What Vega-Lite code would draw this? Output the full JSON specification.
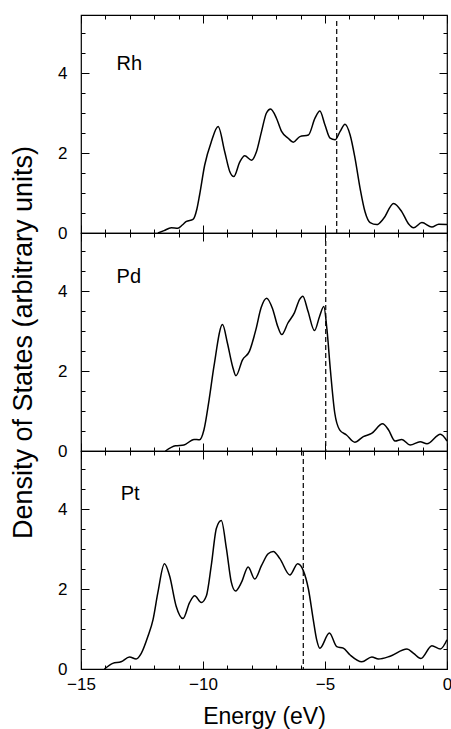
{
  "$schema": "https://vega.github.io/schema/vega-lite/v6.json",
  "background": "white",
  "padding": {"left": 8, "top": 13, "right": 4, "bottom": 5},
  "spacing": 0,
  "bounds": "flush",
  "config": {
    "view": {"stroke": "black", "strokeWidth": 1.2},
    "axis": {"labelFont": "Liberation Sans", "labelFontSize": 17, "labelColor": "black", "labelFlush": false, "titleFont": "Liberation Sans", "titleFontWeight": "normal", "titleColor": "black", "tickColor": "black", "tickWidth": 1, "grid": false, "domain": false},
    "text": {"font": "Liberation Sans"}
  },
  "datasets": {
    "dos": [
      {"metal": "Rh", "E": -11.85, "D": 0}, {"metal": "Rh", "E": -11.6, "D": 0.06}, {"metal": "Rh", "E": -11.3, "D": 0.13}, {"metal": "Rh", "E": -11.03, "D": 0.12}, {"metal": "Rh", "E": -10.85, "D": 0.2}, {"metal": "Rh", "E": -10.68, "D": 0.29}, {"metal": "Rh", "E": -10.41, "D": 0.34}, {"metal": "Rh", "E": -10.25, "D": 0.6}, {"metal": "Rh", "E": -10.14, "D": 0.95}, {"metal": "Rh", "E": -9.93, "D": 1.7}, {"metal": "Rh", "E": -9.66, "D": 2.28}, {"metal": "Rh", "E": -9.38, "D": 2.66}, {"metal": "Rh", "E": -9.11, "D": 2.03}, {"metal": "Rh", "E": -8.9, "D": 1.53}, {"metal": "Rh", "E": -8.74, "D": 1.41}, {"metal": "Rh", "E": -8.49, "D": 1.78}, {"metal": "Rh", "E": -8.29, "D": 1.93}, {"metal": "Rh", "E": -8.01, "D": 1.82}, {"metal": "Rh", "E": -7.81, "D": 2.03}, {"metal": "Rh", "E": -7.6, "D": 2.54}, {"metal": "Rh", "E": -7.4, "D": 3.0}, {"metal": "Rh", "E": -7.23, "D": 3.1}, {"metal": "Rh", "E": -6.99, "D": 2.87}, {"metal": "Rh", "E": -6.78, "D": 2.54}, {"metal": "Rh", "E": -6.51, "D": 2.37}, {"metal": "Rh", "E": -6.3, "D": 2.27}, {"metal": "Rh", "E": -6.03, "D": 2.41}, {"metal": "Rh", "E": -5.68, "D": 2.45}, {"metal": "Rh", "E": -5.41, "D": 2.87}, {"metal": "Rh", "E": -5.21, "D": 3.05}, {"metal": "Rh", "E": -5.0, "D": 2.7}, {"metal": "Rh", "E": -4.79, "D": 2.37}, {"metal": "Rh", "E": -4.59, "D": 2.33}, {"metal": "Rh", "E": -4.38, "D": 2.54}, {"metal": "Rh", "E": -4.18, "D": 2.72}, {"metal": "Rh", "E": -3.97, "D": 2.45}, {"metal": "Rh", "E": -3.77, "D": 1.87}, {"metal": "Rh", "E": -3.56, "D": 1.11}, {"metal": "Rh", "E": -3.36, "D": 0.53}, {"metal": "Rh", "E": -3.15, "D": 0.26}, {"metal": "Rh", "E": -2.88, "D": 0.21}, {"metal": "Rh", "E": -2.6, "D": 0.36}, {"metal": "Rh", "E": -2.19, "D": 0.74}, {"metal": "Rh", "E": -1.85, "D": 0.53}, {"metal": "Rh", "E": -1.58, "D": 0.23}, {"metal": "Rh", "E": -1.37, "D": 0.13}, {"metal": "Rh", "E": -1.03, "D": 0.26}, {"metal": "Rh", "E": -0.62, "D": 0.15}, {"metal": "Rh", "E": -0.34, "D": 0.22}, {"metal": "Rh", "E": 0, "D": 0.21},
      {"metal": "Pd", "E": -11.54, "D": 0}, {"metal": "Pd", "E": -11.13, "D": 0.13}, {"metal": "Pd", "E": -10.78, "D": 0.15}, {"metal": "Pd", "E": -10.37, "D": 0.29}, {"metal": "Pd", "E": -10.14, "D": 0.28}, {"metal": "Pd", "E": -9.96, "D": 0.53}, {"metal": "Pd", "E": -9.75, "D": 1.28}, {"metal": "Pd", "E": -9.55, "D": 2.12}, {"metal": "Pd", "E": -9.2, "D": 3.16}, {"metal": "Pd", "E": -9.0, "D": 2.7}, {"metal": "Pd", "E": -8.79, "D": 2.12}, {"metal": "Pd", "E": -8.65, "D": 1.88}, {"metal": "Pd", "E": -8.38, "D": 2.28}, {"metal": "Pd", "E": -8.1, "D": 2.49}, {"metal": "Pd", "E": -7.83, "D": 3.04}, {"metal": "Pd", "E": -7.62, "D": 3.58}, {"metal": "Pd", "E": -7.39, "D": 3.82}, {"metal": "Pd", "E": -7.14, "D": 3.54}, {"metal": "Pd", "E": -6.94, "D": 3.12}, {"metal": "Pd", "E": -6.77, "D": 2.91}, {"metal": "Pd", "E": -6.52, "D": 3.2}, {"metal": "Pd", "E": -6.25, "D": 3.46}, {"metal": "Pd", "E": -6.04, "D": 3.79}, {"metal": "Pd", "E": -5.91, "D": 3.87}, {"metal": "Pd", "E": -5.7, "D": 3.5}, {"metal": "Pd", "E": -5.43, "D": 3.01}, {"metal": "Pd", "E": -5.22, "D": 3.37}, {"metal": "Pd", "E": -5.05, "D": 3.61}, {"metal": "Pd", "E": -4.92, "D": 3.04}, {"metal": "Pd", "E": -4.78, "D": 2.03}, {"metal": "Pd", "E": -4.6, "D": 0.95}, {"metal": "Pd", "E": -4.4, "D": 0.53}, {"metal": "Pd", "E": -4.12, "D": 0.4}, {"metal": "Pd", "E": -3.78, "D": 0.22}, {"metal": "Pd", "E": -3.43, "D": 0.36}, {"metal": "Pd", "E": -3.09, "D": 0.44}, {"metal": "Pd", "E": -2.64, "D": 0.68}, {"metal": "Pd", "E": -2.4, "D": 0.53}, {"metal": "Pd", "E": -2.13, "D": 0.25}, {"metal": "Pd", "E": -1.85, "D": 0.29}, {"metal": "Pd", "E": -1.51, "D": 0.15}, {"metal": "Pd", "E": -1.1, "D": 0.23}, {"metal": "Pd", "E": -0.82, "D": 0.18}, {"metal": "Pd", "E": -0.27, "D": 0.42}, {"metal": "Pd", "E": 0, "D": 0.25},
      {"metal": "Pt", "E": -14.04, "D": 0}, {"metal": "Pt", "E": -13.7, "D": 0.14}, {"metal": "Pt", "E": -13.36, "D": 0.18}, {"metal": "Pt", "E": -13.01, "D": 0.3}, {"metal": "Pt", "E": -12.74, "D": 0.25}, {"metal": "Pt", "E": -12.53, "D": 0.39}, {"metal": "Pt", "E": -12.26, "D": 0.81}, {"metal": "Pt", "E": -12.05, "D": 1.23}, {"metal": "Pt", "E": -11.85, "D": 1.91}, {"metal": "Pt", "E": -11.58, "D": 2.63}, {"metal": "Pt", "E": -11.37, "D": 2.33}, {"metal": "Pt", "E": -11.1, "D": 1.57}, {"metal": "Pt", "E": -10.82, "D": 1.26}, {"metal": "Pt", "E": -10.55, "D": 1.66}, {"metal": "Pt", "E": -10.34, "D": 1.83}, {"metal": "Pt", "E": -10.07, "D": 1.66}, {"metal": "Pt", "E": -9.86, "D": 1.83}, {"metal": "Pt", "E": -9.66, "D": 2.59}, {"metal": "Pt", "E": -9.45, "D": 3.52}, {"metal": "Pt", "E": -9.25, "D": 3.71}, {"metal": "Pt", "E": -9.04, "D": 3.01}, {"metal": "Pt", "E": -8.84, "D": 2.17}, {"metal": "Pt", "E": -8.67, "D": 1.95}, {"metal": "Pt", "E": -8.42, "D": 2.17}, {"metal": "Pt", "E": -8.15, "D": 2.55}, {"metal": "Pt", "E": -7.88, "D": 2.25}, {"metal": "Pt", "E": -7.6, "D": 2.59}, {"metal": "Pt", "E": -7.33, "D": 2.88}, {"metal": "Pt", "E": -7.12, "D": 2.94}, {"metal": "Pt", "E": -6.85, "D": 2.76}, {"metal": "Pt", "E": -6.44, "D": 2.35}, {"metal": "Pt", "E": -6.12, "D": 2.63}, {"metal": "Pt", "E": -5.89, "D": 2.46}, {"metal": "Pt", "E": -5.68, "D": 2.0}, {"metal": "Pt", "E": -5.48, "D": 1.23}, {"metal": "Pt", "E": -5.34, "D": 0.73}, {"metal": "Pt", "E": -5.21, "D": 0.52}, {"metal": "Pt", "E": -4.82, "D": 0.9}, {"metal": "Pt", "E": -4.52, "D": 0.56}, {"metal": "Pt", "E": -4.25, "D": 0.52}, {"metal": "Pt", "E": -3.97, "D": 0.35}, {"metal": "Pt", "E": -3.49, "D": 0.18}, {"metal": "Pt", "E": -3.08, "D": 0.3}, {"metal": "Pt", "E": -2.81, "D": 0.25}, {"metal": "Pt", "E": -2.33, "D": 0.32}, {"metal": "Pt", "E": -1.64, "D": 0.5}, {"metal": "Pt", "E": -1.37, "D": 0.39}, {"metal": "Pt", "E": -1.07, "D": 0.26}, {"metal": "Pt", "E": -0.62, "D": 0.58}, {"metal": "Pt", "E": -0.27, "D": 0.5}, {"metal": "Pt", "E": 0, "D": 0.73}
    ],
    "fermi": [
      {"metal": "Rh", "ef": -4.52},
      {"metal": "Pd", "ef": -4.97},
      {"metal": "Pt", "ef": -5.89}
    ]
  },
  "vconcat": [
    {
      "width": 366, "height": 218,
      "resolve": {"axis": {"x": "independent", "y": "independent"}},
      "layer": [
        {
          "data": {"name": "dos"},
          "transform": [{"filter": "datum.metal === 'Rh'"}],
          "mark": {"type": "line", "color": "black", "strokeWidth": 1.5, "interpolate": "monotone"},
          "encoding": {
            "x": {"field": "E", "type": "quantitative", "scale": {"domain": [-15, 0], "nice": false, "zero": false},
              "axis": {"orient": "bottom", "values": [-15,-14,-13,-12,-11,-10,-9,-8,-7,-6,-5,-4,-3,-2,-1,0], "tickSize": {"condition": {"test": "datum.value % 5 === 0", "value": -8}, "value": -4}, "labels": false, "title": null}},
            "y": {"field": "D", "type": "quantitative", "scale": {"domain": [0, 5.45], "nice": false},
              "axis": {"orient": "left", "values": [0,0.5,1,1.5,2,2.5,3,3.5,4,4.5,5], "format": "~g", "tickSize": {"condition": {"test": "datum.value % 2 === 0", "value": -8}, "value": -4}, "labelExpr": "datum.value % 2 === 0 ? datum.label : ''", "labelPadding": 22, "title": null}}
          }
        },
        {
          "data": {"name": "fermi"},
          "transform": [{"filter": "datum.metal === 'Rh'"}],
          "mark": {"type": "rule", "color": "black", "strokeWidth": 1.2, "strokeDash": [5, 3]},
          "encoding": {
            "x": {"field": "ef", "type": "quantitative",
              "axis": {"orient": "top", "values": [-15,-14,-13,-12,-11,-10,-9,-8,-7,-6,-5,-4,-3,-2,-1,0], "tickSize": {"condition": {"test": "datum.value % 5 === 0", "value": -8}, "value": -4}, "labels": false, "title": null}},
            "y": {"datum": 5.3, "type": "quantitative",
              "axis": {"orient": "right", "values": [0,0.5,1,1.5,2,2.5,3,3.5,4,4.5,5], "tickSize": {"condition": {"test": "datum.value % 2 === 0", "value": -8}, "value": -4}, "labels": false, "title": null}},
            "y2": {"datum": 0}
          }
        },
        {
          "data": {"name": "fermi"},
          "transform": [{"filter": "datum.metal === 'Rh'"}],
          "mark": {"type": "text", "align": "left", "baseline": "alphabetic", "fontSize": 20, "color": "black"},
          "encoding": {
            "x": {"datum": -13.54, "type": "quantitative", "axis": null},
            "y": {"datum": 4.07, "type": "quantitative", "axis": null},
            "text": {"field": "metal"}
          }
        }
      ]
    },
    {
      "width": 366, "height": 218,
      "resolve": {"axis": {"x": "independent", "y": "independent"}},
      "layer": [
        {
          "data": {"name": "dos"},
          "transform": [{"filter": "datum.metal === 'Pd'"}],
          "mark": {"type": "line", "color": "black", "strokeWidth": 1.5, "interpolate": "monotone"},
          "encoding": {
            "x": {"field": "E", "type": "quantitative", "scale": {"domain": [-15, 0], "nice": false, "zero": false},
              "axis": {"orient": "bottom", "values": [-15,-14,-13,-12,-11,-10,-9,-8,-7,-6,-5,-4,-3,-2,-1,0], "tickSize": {"condition": {"test": "datum.value % 5 === 0", "value": -8}, "value": -4}, "labels": false, "title": null}},
            "y": {"field": "D", "type": "quantitative", "scale": {"domain": [0, 5.45], "nice": false},
              "axis": {"orient": "left", "values": [0,0.5,1,1.5,2,2.5,3,3.5,4,4.5,5], "format": "~g", "tickSize": {"condition": {"test": "datum.value % 2 === 0", "value": -8}, "value": -4}, "labelExpr": "datum.value % 2 === 0 ? datum.label : ''", "labelPadding": 22, "title": "Density of States (arbitrary units)", "titleFontSize": 27, "titlePadding": 20}}
          }
        },
        {
          "data": {"name": "fermi"},
          "transform": [{"filter": "datum.metal === 'Pd'"}],
          "mark": {"type": "rule", "color": "black", "strokeWidth": 1.2, "strokeDash": [5, 3]},
          "encoding": {
            "x": {"field": "ef", "type": "quantitative",
              "axis": {"orient": "top", "values": [-15,-14,-13,-12,-11,-10,-9,-8,-7,-6,-5,-4,-3,-2,-1,0], "tickSize": {"condition": {"test": "datum.value % 5 === 0", "value": -8}, "value": -4}, "labels": false, "title": null}},
            "y": {"datum": 5.45, "type": "quantitative",
              "axis": {"orient": "right", "values": [0,0.5,1,1.5,2,2.5,3,3.5,4,4.5,5], "tickSize": {"condition": {"test": "datum.value % 2 === 0", "value": -8}, "value": -4}, "labels": false, "title": null}},
            "y2": {"datum": 0}
          }
        },
        {
          "data": {"name": "fermi"},
          "transform": [{"filter": "datum.metal === 'Pd'"}],
          "mark": {"type": "text", "align": "left", "baseline": "alphabetic", "fontSize": 20, "color": "black"},
          "encoding": {
            "x": {"datum": -13.54, "type": "quantitative", "axis": null},
            "y": {"datum": 4.19, "type": "quantitative", "axis": null},
            "text": {"field": "metal"}
          }
        }
      ]
    },
    {
      "width": 366, "height": 218,
      "resolve": {"axis": {"x": "independent", "y": "independent"}},
      "layer": [
        {
          "data": {"name": "dos"},
          "transform": [{"filter": "datum.metal === 'Pt'"}],
          "mark": {"type": "line", "color": "black", "strokeWidth": 1.5, "interpolate": "monotone"},
          "encoding": {
            "x": {"field": "E", "type": "quantitative", "scale": {"domain": [-15, 0], "nice": false, "zero": false},
              "axis": {"orient": "bottom", "values": [-15,-14,-13,-12,-11,-10,-9,-8,-7,-6,-5,-4,-3,-2,-1,0], "tickSize": {"condition": {"test": "datum.value % 5 === 0", "value": -8}, "value": -4}, "labelExpr": "datum.value % 5 === 0 ? datum.label : ''", "labelPadding": 15, "title": "Energy (eV)", "titleFontSize": 23, "titlePadding": 13}},
            "y": {"field": "D", "type": "quantitative", "scale": {"domain": [0, 5.45], "nice": false},
              "axis": {"orient": "left", "values": [0,0.5,1,1.5,2,2.5,3,3.5,4,4.5,5], "format": "~g", "tickSize": {"condition": {"test": "datum.value % 2 === 0", "value": -8}, "value": -4}, "labelExpr": "datum.value % 2 === 0 ? datum.label : ''", "labelPadding": 22, "title": null}}
          }
        },
        {
          "data": {"name": "fermi"},
          "transform": [{"filter": "datum.metal === 'Pt'"}],
          "mark": {"type": "rule", "color": "black", "strokeWidth": 1.2, "strokeDash": [5, 3]},
          "encoding": {
            "x": {"field": "ef", "type": "quantitative",
              "axis": {"orient": "top", "values": [-15,-14,-13,-12,-11,-10,-9,-8,-7,-6,-5,-4,-3,-2,-1,0], "tickSize": {"condition": {"test": "datum.value % 5 === 0", "value": -8}, "value": -4}, "labels": false, "title": null}},
            "y": {"datum": 5.45, "type": "quantitative",
              "axis": {"orient": "right", "values": [0,0.5,1,1.5,2,2.5,3,3.5,4,4.5,5], "tickSize": {"condition": {"test": "datum.value % 2 === 0", "value": -8}, "value": -4}, "labels": false, "title": null}},
            "y2": {"datum": 0}
          }
        },
        {
          "data": {"name": "fermi"},
          "transform": [{"filter": "datum.metal === 'Pt'"}],
          "mark": {"type": "text", "align": "left", "baseline": "alphabetic", "fontSize": 20, "color": "black"},
          "encoding": {
            "x": {"datum": -13.37, "type": "quantitative", "axis": null},
            "y": {"datum": 4.23, "type": "quantitative", "axis": null},
            "text": {"field": "metal"}
          }
        }
      ]
    }
  ]
}
